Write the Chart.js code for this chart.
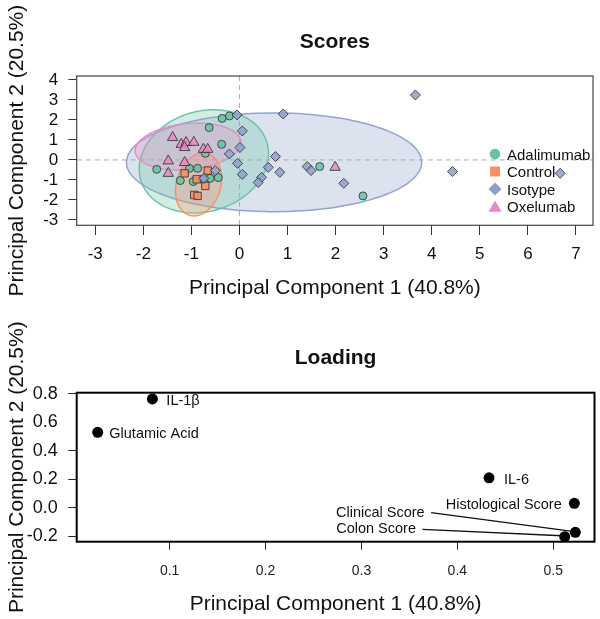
<!DOCTYPE html>
<html>
<head>
<meta charset="utf-8">
<title>PCA Scores / Loading</title>
<script src="https://cdn.jsdelivr.net/npm/chart.js@4.4.1/dist/chart.umd.min.js"></script>
<style>
  html, body { margin: 0; padding: 0; background: #fff; }
  canvas { position: absolute; left: 0; }
  #scores { top: 0; }
  #loading { top: 310px; }
</style>
</head>
<body>
<canvas id="scores" width="600" height="310"></canvas>
<canvas id="loading" width="600" height="309"></canvas>
<script>
// ---------- Scores (PC1 / PC2 per group) ----------
const groups = ["Adalimumab", "Control", "Isotype", "Oxelumab"];

const adalimumabPC1 = [-0.36, -0.21, -0.63, -0.37, -0.71, -1.72, -1.04, -0.87, -1.23, -0.96, -0.77, -0.61, -0.44, 1.67, 2.57];
const adalimumabPC2 = [2.08, 2.20, 1.62, 0.78, 0.33, -0.47, -0.42, -0.42, -1.03, -1.08, -0.97, -0.92, -0.88, -0.33, -1.80];

const controlPC1 = [-1.14, -0.89, -0.66, -0.71, -0.94, -0.87];
const controlPC2 = [-0.67, -0.97, -0.53, -1.30, -1.75, -1.80];

const isotypePC1 = [-0.05, 0.91, 0.06, 0.01, -0.21, -0.04, 0.06, -0.50, -0.74, 0.75, 0.60, 0.84, 0.46, 0.39, 1.41, 1.49, 2.17, 3.66, 4.43, 6.67];
const isotypePC2 = [2.25, 2.30, 1.45, 0.62, 0.30, -0.17, -0.72, -0.53, -0.92, 0.17, -0.37, -0.62, -0.87, -1.13, -0.33, -0.53, -1.17, 3.25, -0.58, -0.67];

const oxelumabPC1 = [-1.39, -1.21, -1.11, -1.14, -0.95, -0.75, -0.66, -1.48, -1.14, -1.48, 1.99];
const oxelumabPC2 = [1.12, 0.78, 0.87, 0.62, 0.88, 0.53, 0.53, -0.05, -0.13, -0.67, -0.37];

// 信賴橢圓：中心、半軸 (PC 單位)、相關係數
const ellipseCenterPC1 = [-0.74, -0.85, 0.72, -1.07];
const ellipseCenterPC2 = [-0.07, -1.23, -0.12, 0.67];
const ellipseRadiusPC1 = [1.345, 0.48, 3.07, 1.10];
const ellipseRadiusPC2 = [2.58, 1.57, 2.47, 1.17];
const ellipseCorr = [0.15, 0.2, 0.0, 0.18];

const scoreXTicks = [-3, -2, -1, 0, 1, 2, 3, 4, 5, 6, 7];
const scoreYTicks = [-3, -2, -1, 0, 1, 2, 3, 4];

// ---------- Loading ----------
const variables = ["IL-1β", "Glutamic Acid", "IL-6", "Histological Score", "Clinical Score", "Colon Score"];
const loadingPC1 = [0.082, 0.025, 0.433, 0.522, 0.523, 0.512];
const loadingPC2 = [0.765, 0.530, 0.210, 0.030, -0.174, -0.205];

const loadingXTicks = [0.1, 0.2, 0.3, 0.4, 0.5];
const loadingYTicks = [-0.2, 0.0, 0.2, 0.4, 0.6, 0.8];

// ---------- styles ----------
const FONT = "'Liberation Sans', Arial, sans-serif";
Chart.defaults.font.family = FONT;
Chart.defaults.color = "#111";

const groupColors = ["102,194,165", "252,141,98", "141,160,203", "231,138,195"];
const groupShapes = ["circle", "rect", "rectRot", "triangle"];
const groupRadius = [4, 5.2, 5, 6];
const rgba = (c, a) => `rgba(${c},${a})`;

const scorePC1 = [adalimumabPC1, controlPC1, isotypePC1, oxelumabPC1];
const scorePC2 = [adalimumabPC2, controlPC2, isotypePC2, oxelumabPC2];

// 畫標題與軸標題
const textPlugin = (cfg) => ({
  id: "texts_" + cfg.title,
  afterDraw: (chart) => {
    const ctx = chart.ctx;
    const { left, right, top, bottom } = chart.chartArea;
    const cx = (left + right) / 2;
    ctx.save();
    ctx.fillStyle = "#111";
    ctx.textAlign = "center";
    ctx.textBaseline = "alphabetic";
    ctx.font = `bold 21px ${FONT}`;
    ctx.fillText(cfg.title, cx, cfg.titleBaseline);
    ctx.font = `21px ${FONT}`;
    ctx.fillText("Principal Component 1 (40.8%)", cx, cfg.xTitleBaseline);
    ctx.translate(22.7, (top + bottom) / 2);
    ctx.rotate(-Math.PI / 2);
    ctx.fillText("Principal Component 2 (20.5%)", 0, 0);
    ctx.restore();
  },
});

// 畫外框
const boxPlugin = (color, width) => ({
  id: "box",
  afterDraw: (chart) => {
    const ctx = chart.ctx;
    const { left, top, width: w, height: h } = chart.chartArea;
    ctx.save();
    ctx.strokeStyle = color;
    ctx.lineWidth = width;
    ctx.strokeRect(left, top, w, h);
    ctx.restore();
  },
});

// 橢圓 + 零線
const ellipsePlugin = {
  id: "ellipses",
  beforeDatasetsDraw: (chart) => {
    const ctx = chart.ctx;
    const { x, y } = chart.scales;
    const area = chart.chartArea;
    ctx.save();
    ctx.beginPath();
    ctx.rect(area.left, area.top, area.width, area.height);
    ctx.clip();
    [2, 0, 1, 3].forEach((i) => {
      const d = Math.acos(ellipseCorr[i]);
      ctx.beginPath();
      for (let k = 0; k <= 200; k++) {
        const t = (k / 200) * 2 * Math.PI;
        const px = x.getPixelForValue(ellipseCenterPC1[i] + ellipseRadiusPC1[i] * Math.cos(t));
        const py = y.getPixelForValue(ellipseCenterPC2[i] + ellipseRadiusPC2[i] * Math.cos(t - d));
        if (k === 0) ctx.moveTo(px, py);
        else ctx.lineTo(px, py);
      }
      ctx.closePath();
      ctx.fillStyle = rgba(groupColors[i], 0.3);
      ctx.fill();
      ctx.strokeStyle = rgba(groupColors[i], 0.95);
      ctx.lineWidth = 1.5;
      ctx.stroke();
    });
    // 虛線 x=0, y=0
    ctx.strokeStyle = "#aaa";
    ctx.lineWidth = 1;
    ctx.setLineDash([5, 4]);
    const x0 = x.getPixelForValue(0);
    const y0 = y.getPixelForValue(0);
    ctx.beginPath();
    ctx.moveTo(x0, area.top);
    ctx.lineTo(x0, area.bottom);
    ctx.moveTo(area.left, y0);
    ctx.lineTo(area.right, y0);
    ctx.stroke();
    ctx.restore();
  },
};

// 圖例 (畫在圖內)
const legendPlugin = {
  id: "insideLegend",
  afterDraw: (chart) => {
    const ctx = chart.ctx;
    const rows = [155.5, 173, 190.5, 208];
    const markerR = [5.3, 7, 6.5, 7.5];
    ctx.save();
    groups.forEach((g, i) => {
      ctx.fillStyle = rgba(groupColors[i], 1);
      Chart.helpers.drawPoint(ctx, { pointStyle: groupShapes[i], radius: markerR[i], rotation: 0, borderWidth: 0 }, 495, rows[i] - (i === 3 ? 0 : 1.5));
      ctx.fillStyle = "#111";
      ctx.font = `15px ${FONT}`;
      ctx.textAlign = "left";
      ctx.textBaseline = "middle";
      ctx.fillText(g, 507, rows[i]);
    });
    ctx.restore();
  },
};

new Chart(document.getElementById("scores"), {
  type: "scatter",
  data: {
    datasets: groups.map((g, i) => ({
      label: g,
      data: scorePC1[i].map((v, j) => ({ x: v, y: scorePC2[i][j] })),
      pointStyle: groupShapes[i],
      pointRadius: groupRadius[i],
      backgroundColor: rgba(groupColors[i], 0.85),
      borderColor: "rgba(50,50,50,0.85)",
      borderWidth: 1,
      order: 4 - i,
    })),
  },
  options: {
    responsive: false,
    animation: false,
    events: [],
    layout: { padding: { top: 76, left: 0, right: 4.5, bottom: 44.7 } },
    plugins: { legend: { display: false }, tooltip: { enabled: false } },
    scales: {
      x: {
        type: "linear",
        min: -3.385,
        max: 7.354,
        afterBuildTicks: (s) => { s.ticks = scoreXTicks.map((v) => ({ value: v })); },
        afterFit: (s) => { s.height = 40; },
        grid: { drawOnChartArea: false, tickLength: 9.7, tickColor: "#333" },
        border: { display: false },
        ticks: { font: { size: 17 }, color: "#111", padding: 9, maxRotation: 0, autoSkip: false },
      },
      y: {
        type: "linear",
        min: -3.27,
        max: 4.2,
        afterBuildTicks: (s) => { s.ticks = scoreYTicks.map((v) => ({ value: v })); },
        afterFit: (s) => { s.width = 76.7; },
        grid: { drawOnChartArea: false, tickLength: 8.4, tickColor: "#333" },
        border: { display: false },
        ticks: { font: { size: 17 }, color: "#111", padding: 10, autoSkip: false },
      },
    },
  },
  plugins: [ellipsePlugin, boxPlugin("#444", 1.2), legendPlugin,
    textPlugin({ title: "Scores", titleBaseline: 48, xTitleBaseline: 294 })],
});

// 標籤位置 (相對於點的像素偏移)
const labelOffsets = [
  { dx: 14, dy: 2, align: "left" },
  { dx: 11.6, dy: 2, align: "left" },
  { dx: 15, dy: 2, align: "left" },
  { dx: -12.6, dy: 2, align: "right" },
  { dx: -239.3, dy: -19.6, align: "left", leader: true },
  { dx: -228.6, dy: -7.4, align: "left", leader: true },
];

const loadingLabelPlugin = {
  id: "loadingLabels",
  afterDatasetsDraw: (chart) => {
    const ctx = chart.ctx;
    const { x, y } = chart.scales;
    ctx.save();
    ctx.font = `14.5px ${FONT}`;
    ctx.fillStyle = "#111";
    ctx.strokeStyle = "#111";
    ctx.lineWidth = 1.3;
    ctx.textBaseline = "middle";
    variables.forEach((name, i) => {
      const px = x.getPixelForValue(loadingPC1[i]);
      const py = y.getPixelForValue(loadingPC2[i]);
      const o = labelOffsets[i];
      const tx = px + o.dx;
      const ty = py + o.dy;
      ctx.textAlign = o.align;
      ctx.fillText(name, tx, ty);
      if (o.leader) {
        const w = ctx.measureText(name).width;
        ctx.beginPath();
        ctx.moveTo(tx + w + 6.5, ty);
        ctx.lineTo(px - 3, py - 1);
        ctx.stroke();
      }
    });
    ctx.restore();
  },
};

new Chart(document.getElementById("loading"), {
  type: "scatter",
  data: {
    datasets: [{
      label: "Loading",
      data: loadingPC1.map((v, i) => ({ x: v, y: loadingPC2[i] })),
      pointStyle: "circle",
      pointRadius: 5.5,
      backgroundColor: "#000",
      borderWidth: 0,
    }],
  },
  options: {
    responsive: false,
    animation: false,
    events: [],
    layout: { padding: { top: 82.7, left: 0, right: 1.1, bottom: 37.3 } },
    plugins: { legend: { display: false }, tooltip: { enabled: false } },
    scales: {
      x: {
        type: "linear",
        min: 0.0031,
        max: 0.543,
        afterBuildTicks: (s) => { s.ticks = loadingXTicks.map((v) => ({ value: v })); },
        afterFit: (s) => { s.height = 40; },
        grid: { drawOnChartArea: false, tickLength: 8, tickColor: "#222" },
        border: { display: false },
        ticks: { font: { size: 14 }, color: "#222", padding: 13, maxRotation: 0, autoSkip: false, callback: (v) => v.toFixed(1) },
      },
      y: {
        type: "linear",
        min: -0.24,
        max: 0.809,
        afterBuildTicks: (s) => { s.ticks = loadingYTicks.map((v) => ({ value: v })); },
        afterFit: (s) => { s.width = 76.7; },
        grid: {
          drawOnChartArea: false,
          tickLength: 8.4,
          tickColor: (c) => (c.tick && c.tick.value === 0.6 ? "rgba(0,0,0,0)" : "#222"),
        },
        border: { display: false },
        ticks: { font: { size: 18 }, color: "#111", padding: 10.6, autoSkip: false, callback: (v) => v.toFixed(1) },
      },
    },
  },
  plugins: [boxPlugin("#000", 2), loadingLabelPlugin,
    textPlugin({ title: "Loading", titleBaseline: 54, xTitleBaseline: 300.4 })],
});
</script>
</body>
</html>
